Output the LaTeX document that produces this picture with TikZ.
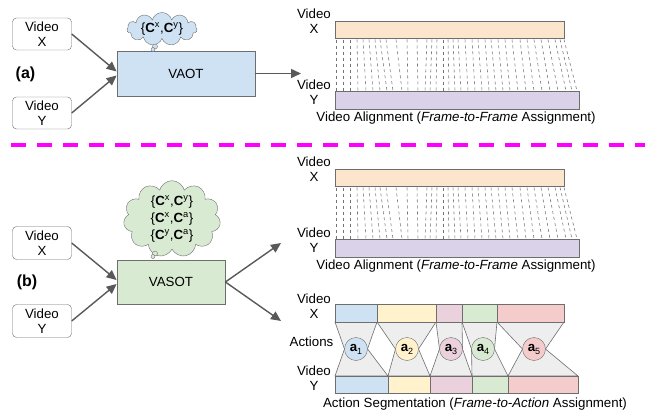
\documentclass[tikz,border=0pt]{standalone}
\usepackage{fontspec}
\setmainfont{Liberation Sans}
\usetikzlibrary{shapes.symbols,calc,arrows.meta}
\definecolor{cblue}{HTML}{CFE2F3}
\definecolor{cgreen}{HTML}{D9EAD3}
\definecolor{cpeach}{HTML}{FCE5CD}
\definecolor{clav}{HTML}{D9D2E9}
\definecolor{cyel}{HTML}{FFF2CC}
\definecolor{cpink}{HTML}{EAD1DC}
\definecolor{cred}{HTML}{F4CCCC}
\definecolor{edge}{HTML}{6E6E6E}
\definecolor{arrg}{HTML}{595959}
\definecolor{funnel}{HTML}{EEEEEE}
\definecolor{mag}{HTML}{FF00FF}
\begin{document}
\begin{tikzpicture}[x=1pt,y=-1pt,font=\fontsize{13.3}{15}\selectfont,
  vbox/.style={draw=edge,rounded corners=4pt,fill=white,minimum width=59pt,minimum height=32pt,align=center,inner sep=0pt},
  proc/.style={draw=edge,line width=0.8pt,inner sep=0pt},
  arr/.style={draw=arrg,line width=1.4pt,-{Triangle[length=10pt,width=9pt]}},
  thought/.style={cloud,cloud puffs=11,cloud ignores aspect,draw=edge,inner sep=0pt,align=center},
  lbl/.style={align=center,inner sep=0pt},
  bar/.style={draw=edge,line width=0.8pt},
  dl/.style={draw=black!55,line width=0.55pt,dash pattern=on 3pt off 3pt},
  act/.style={circle,draw=edge,minimum size=23pt,inner sep=0pt,font=\fontsize{13.3}{15}\selectfont},
  fun/.style={fill=funnel,draw=edge,line width=0.6pt}]
\useasboundingbox (0,0) rectangle (649,415);

% ---------- (a) ----------
\node[vbox] (ax) at (42,34) {Video\\X};
\node[vbox] (ay) at (42,113) {Video\\Y};
\node[font=\fontsize{16}{18}\selectfont\bfseries] (la) at (25.5,74) {(a)};
\node[proc,fill=cblue,minimum width=138pt,minimum height=45pt] (vaot) at (186,73.5) {VAOT};
\node[thought,fill=cblue,minimum width=70pt,minimum height=33pt] (ca) at (162,29)
  {\{\textbf{C}\textsuperscript{x},\textbf{C}\textsuperscript{y}\}};
\node[circle,draw=edge,fill=cblue,minimum size=5pt,inner sep=0pt] (ta1) at (155,46.5) {};
\node[circle,draw=edge,fill=cblue,minimum size=4pt,inner sep=0pt] (ta2) at (153,49.5) {};
\draw[arr] (ax.east) -- ($(vaot.west)+(0,-2)$);
\draw[arr] (ay.east) -- ($(vaot.west)+(0,2)$);
\coordinate (aend) at (301,73.5);
\draw[arr] (vaot.east) -- (aend);

% ---------- alignment blocks ----------
\foreach \dy/\nm in {0/p,148/q}{
  \begin{scope}[yshift=-\dy pt]
  \node[bar,fill=cpeach,minimum width=229pt,minimum height=17pt,inner sep=0pt,anchor=north west] (\nm top) at (335,21) {};
  \node[bar,fill=clav,minimum width=244pt,minimum height=18pt,inner sep=0pt,anchor=north west] (\nm bot) at (335,91) {};
  \foreach \t/\b in {336/336,343/343,350/350,357/358,363/366,369/373,375/380,380/387,386/393,396/402,407/408,417/418,427/425,432/430,437/436,443/443,448/449,453/455,458/461,465/468,472/475,478/482,485/489,491/496,498/503,505/510,512/518,520/526,527/534,534/542,541/550,548/558,555/566,560/572,564/577}
    \draw[dl] (\t,39.5) -- (\b,91);
  \node[lbl] (\nm vx) at (314,21.5) {Video\\X};
  \node[lbl] (\nm vy) at (314,92.5) {Video\\Y};
  \node[lbl] (\nm cap) at (456,118) {Video Alignment (\textit{Frame-to-Frame} Assignment)};
  \end{scope}
}

% ---------- separator ----------
\coordinate (s1) at (11,145);
\coordinate (s2) at (645,145);
\draw[mag,line width=3.5pt,dash pattern=on 15pt off 11pt] (s1) -- (s2);

% ---------- (b) ----------
\node[vbox,minimum height=33pt] (bx) at (42,243) {Video\\X};
\node[vbox,minimum height=33pt] (by) at (42,321) {Video\\Y};
\node[font=\fontsize{16}{18}\selectfont\bfseries] (lb) at (27,282) {(b)};
\node[proc,fill=cgreen,minimum width=108pt,minimum height=44pt] (vasot) at (171,282) {VASOT};
\node[thought,fill=cgreen,minimum width=97pt,minimum height=64pt,font=\fontsize{13.3}{17}\selectfont] (cb) at (172,219)
  {\{\textbf{C}\textsuperscript{x},\textbf{C}\textsuperscript{y}\}\\
   \{\textbf{C}\textsuperscript{x},\textbf{C}\textsuperscript{a}\}\\
   \{\textbf{C}\textsuperscript{y},\textbf{C}\textsuperscript{a}\}};
\node[circle,draw=edge,fill=cgreen,minimum size=5pt,inner sep=0pt] (tb1) at (155,253.5) {};
\node[circle,draw=edge,fill=cgreen,minimum size=4pt,inner sep=0pt] (tb2) at (153,256.5) {};
\draw[arr] (bx.east) -- ($(vasot.west)+(0,-2)$);
\draw[arr] (by.east) -- ($(vasot.west)+(0,2)$);
\coordinate (bend1) at (281,243);
\coordinate (bend2) at (281,321);
\draw[arr] (vasot.east) -- (bend1);
\draw[arr] (vasot.east) -- (bend2);

% ---------- action segmentation ----------
\def\ty{322}\def\by{376}\def\cy{349}\def\r{11.5}
\foreach \tl/\tr/\bl/\br/\cx in {335/377/335/388/356,377/436/388/430/407,436/462/430/472/451,462/497/472/508/483,497/564/508/578/534}
  \fill[fun] (\tl,\ty) -- (\cx-\r,\cy) -- (\bl,\by) -- (\br,\by) -- (\cx+\r,\cy) -- (\tr,\ty) -- cycle;
\foreach \x/\w/\c/\n in {335/42/cblue/t1,377/59/cyel/t2,436/26/cpink/t3,462/35/cgreen/t4,497/67/cred/t5}
  \node[bar,fill=\c,minimum width=\w pt,minimum height=18pt,inner sep=0pt,anchor=north west] (\n) at (\x,304) {};
\foreach \x/\w/\c/\n in {335/53/cblue/b1,388/42/cyel/b2,430/42/cpink/b3,472/36/cgreen/b4,508/70/cred/b5}
  \node[bar,fill=\c,minimum width=\w pt,minimum height=17pt,inner sep=0pt,anchor=north west] (\n) at (\x,376) {};
\foreach \cx/\c/\i in {356/cblue/1,407/cyel/2,451/cpink/3,483/cgreen/4,534/cred/5}
  \node[act,fill=\c] (a\i) at (\cx,\cy) {\textbf{a}\raisebox{-3pt}{\fontsize{9}{9}\selectfont\i}};
\node[lbl] (svx) at (314,306.5) {Video\\X};
\node[lbl] (sact) at (311.5,342) {Actions};
\node[lbl] (svy) at (314,378.5) {Video\\Y};
\node[lbl] (scap) at (475,404) {Action Segmentation (\textit{Frame-to-Action} Assignment)};
\end{tikzpicture}
\end{document}
